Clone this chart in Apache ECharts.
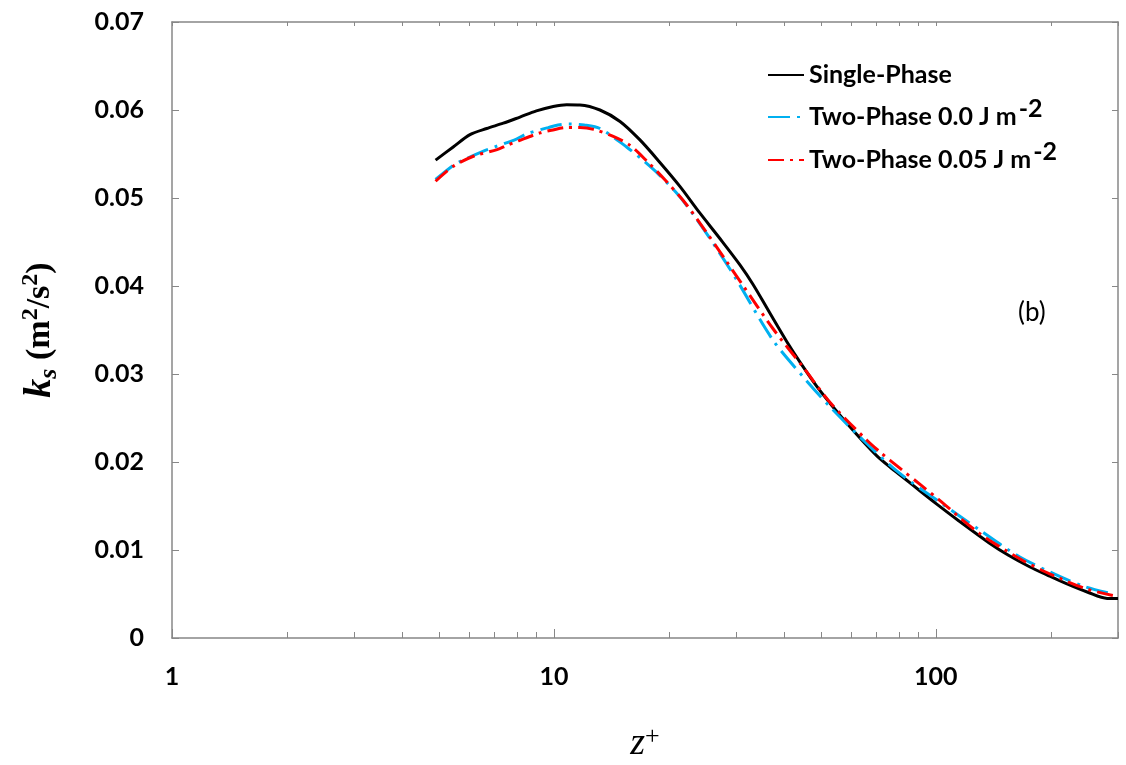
<!DOCTYPE html>
<html>
<head>
<meta charset="utf-8">
<script src="https://cdn.jsdelivr.net/npm/echarts@6/dist/echarts.min.js"></script>
<style>html,body{margin:0;padding:0;background:#fff}#c{width:1126px;height:765px}</style>
</head>
<body>
<div id="c"></div>
<script>
// ---- data ----
const seriesNames = ['Single-Phase', 'Two-Phase 0.0 J m-2', 'Two-Phase 0.05 J m-2'];

const singleZ = [4.9, 5.45, 6.03, 6.67, 7.37, 8.15, 9.0, 9.96, 10.8, 11.7, 13.2, 14.9, 16.8, 18.9, 21.4, 24.1, 27.2, 30.7, 33.2, 36.8, 40.7, 44.5, 48.8, 53.5, 58.5, 64, 70.1, 76, 83, 91, 100, 115, 138, 155, 176, 197, 219, 250, 281, 300];
const singleK = [0.0543, 0.0558, 0.0572, 0.0579, 0.0585, 0.0592, 0.0599, 0.0604, 0.0606, 0.06057, 0.0600, 0.0587, 0.0566, 0.0541, 0.0513, 0.0483, 0.0454, 0.0424, 0.0402, 0.0369, 0.0337, 0.0311, 0.0286, 0.0264, 0.0244, 0.0225, 0.0207, 0.0194, 0.0181, 0.0167, 0.0153, 0.0133, 0.0108, 0.0094, 0.0081, 0.0071, 0.0062, 0.0052, 0.0045, 0.0045];

const twoPhase0Z = [4.9, 5.45, 5.78, 6.52, 7.0, 7.98, 8.5, 9.65, 10.25, 11.0, 12.0, 13.2, 15.5, 17.1, 18.9, 21.4, 24.1, 27.2, 30.1, 37.4, 44.9, 52.8, 65.9, 80.5, 102, 130, 166, 211, 247, 285];
const twoPhase0K = [0.0521, 0.0537, 0.0543, 0.0553, 0.0558, 0.0567, 0.0573, 0.0580, 0.0583, 0.0584, 0.0583, 0.0579, 0.0558, 0.0543, 0.0526, 0.0501, 0.0471, 0.0437, 0.0407, 0.0339, 0.0297, 0.0263, 0.0221, 0.0187, 0.0155, 0.0123, 0.0092, 0.0070, 0.0058, 0.0051];

const twoPhase05Z = [4.9, 5.45, 6.2, 7.1, 7.55, 8.08, 9.2, 9.85, 10.8, 11.7, 12.7, 14.3, 15.8, 17.6, 19.5, 22.1, 24.9, 28.0, 31.0, 37.4, 44.9, 52.8, 65.9, 71.6, 80.5, 92.5, 102, 130, 166, 194, 247, 300];
const twoPhase05K = [0.0519, 0.0536, 0.0548, 0.0555, 0.0560, 0.0565, 0.0574, 0.0577, 0.0580, 0.0580, 0.0578, 0.0570, 0.0560, 0.0541, 0.0521, 0.0494, 0.0463, 0.0431, 0.0403, 0.0352, 0.0308, 0.0268, 0.0225, 0.0211, 0.0193, 0.0172, 0.0157, 0.0119, 0.0090, 0.0075, 0.0056, 0.0047];

const xMajorTicks = [1, 10, 100];
const xMinorTicks = [2, 3, 4, 5, 6, 7, 8, 9, 20, 30, 40, 50, 60, 70, 80, 90, 200, 300];
const xMin = 1, xMax = 300;
const yMin = 0, yMax = 0.07, yStep = 0.01;

// ---- chart ----
const pairs = (xs, ys) => xs.map((x, i) => [x, ys[i]]);
const axisGray = '#878787';
const labelFont = { fontFamily: 'Lato', fontWeight: 'bold', fontSize: 25, color: '#000' };

const chart = echarts.init(document.getElementById('c'), null, { renderer: 'canvas' });

const baseX = {
  type: 'log', logBase: 10, min: xMin, max: xMax,
  splitLine: { show: false }
};

chart.setOption({
  backgroundColor: '#fff',
  animation: false,
  grid: { left: 172, right: 8, top: 22, bottom: 127, containLabel: false, outerBoundsMode: 'none' },
  legend: {
    orient: 'vertical', left: 762, top: 49,
    itemWidth: 36, itemHeight: 14, itemGap: 0,
    itemStyle: { opacity: 0 },
    textStyle: {
      fontFamily: 'Lato', fontWeight: 'bold', fontSize: 25, color: '#000', lineHeight: 42,
      rich: {
        t: { fontFamily: 'Lato', fontWeight: 'bold', fontSize: 25, color: '#000', lineHeight: 42 },
        sup: { fontFamily: 'Lato', fontWeight: 'bold', fontSize: 25, color: '#000', verticalAlign: 'top', lineHeight: 20, padding: [0, 0, 18, 2] }
      }
    },
    formatter: function (name) {
      if (/-2$/.test(name)) {
        return '{t|' + name.slice(0, -2) + '}{sup|-2}';
      }
      return '{t|' + name + '}';
    },
    data: seriesNames
  },
  graphic: [{
    type: 'text', left: 1018, top: 300,
    style: { text: '(b)', fontFamily: 'Lato', fontSize: 26, fill: '#000' }
  }],
  xAxis: [
    Object.assign({}, baseX, {
      position: 'bottom',
      axisLine: { show: true, lineStyle: { color: axisGray, width: 1.5 } },
      axisTick: { show: true, inside: true, length: 9, customValues: xMajorTicks, lineStyle: { color: axisGray, width: 1 } },
      axisLabel: Object.assign({ customValues: xMajorTicks, margin: 26, formatter: v => String(Math.round(v)) }, labelFont),
      name: '{z|z}{sup|+}',
      nameLocation: 'middle', nameGap: 86,
      nameTextStyle: {
        rich: {
          z: { fontFamily: 'Liberation Serif', fontStyle: 'italic', fontSize: 38, color: '#000', lineHeight: 40 },
          sup: { fontFamily: 'Liberation Serif', fontSize: 26, color: '#000', verticalAlign: 'top', lineHeight: 30, padding: [0, 0, 26, 0] }
        }
      }
    }),
    Object.assign({}, baseX, {
      position: 'bottom',
      axisLine: { show: false },
      axisTick: { show: true, inside: true, length: 6, customValues: xMinorTicks, lineStyle: { color: axisGray, width: 1 } },
      axisLabel: { show: false }
    }),
    Object.assign({}, baseX, {
      position: 'top',
      axisLine: { show: true, lineStyle: { color: axisGray, width: 1.5 } },
      axisTick: { show: true, inside: true, length: 4, customValues: xMajorTicks.concat(xMinorTicks), lineStyle: { color: axisGray, width: 1 } },
      axisLabel: { show: false }
    })
  ],
  yAxis: [
    {
      type: 'value', min: yMin, max: yMax, interval: yStep, position: 'left',
      splitLine: { show: false },
      axisLine: { show: true, lineStyle: { color: axisGray, width: 1.5 } },
      axisTick: { show: true, inside: true, length: 7, lineStyle: { color: axisGray, width: 1 } },
      axisLabel: Object.assign({ margin: 28, formatter: v => (v === 0 ? '0' : v.toFixed(2)) }, labelFont),
      name: '{k|k}{s|s}{u| (m}{sup|2}{u|/s}{sup|2}{u|)}',
      nameLocation: 'middle', nameGap: 112, nameRotate: 90,
      nameTextStyle: {
        rich: {
          k: { fontFamily: 'Liberation Serif', fontStyle: 'italic', fontWeight: 'bold', fontSize: 38, color: '#000', lineHeight: 40 },
          s: { fontFamily: 'Liberation Serif', fontStyle: 'italic', fontWeight: 'bold', fontSize: 26, color: '#000', lineHeight: 22, padding: [18, 0, 0, 0] },
          u: { fontFamily: 'Liberation Serif', fontWeight: 'bold', fontSize: 34, color: '#000', lineHeight: 40 },
          sup: { fontFamily: 'Liberation Serif', fontWeight: 'bold', fontSize: 24, color: '#000', lineHeight: 22, padding: [0, 0, 18, 0] }
        }
      }
    },
    {
      type: 'value', min: yMin, max: yMax, interval: yStep, position: 'right',
      splitLine: { show: false },
      axisLine: { show: true, lineStyle: { color: axisGray, width: 1.5 } },
      axisTick: { show: true, inside: true, length: 6, lineStyle: { color: axisGray, width: 1 } },
      axisLabel: { show: false }
    }
  ],
  series: [
    {
      name: seriesNames[0], type: 'line', xAxisIndex: 0, yAxisIndex: 0,
      data: pairs(singleZ, singleK), symbol: 'none', smooth: 0.3,
      lineStyle: { color: '#000000', width: 3 }, itemStyle: { color: '#000000' }, z: 3
    },
    {
      name: seriesNames[1], type: 'line', xAxisIndex: 0, yAxisIndex: 0,
      data: pairs(twoPhase0Z, twoPhase0K), symbol: 'none', smooth: 0.3,
      lineStyle: { color: '#00B0F0', width: 3, type: [22, 7, 3, 7], cap: 'butt' }, itemStyle: { color: '#00B0F0' }, z: 4
    },
    {
      name: seriesNames[2], type: 'line', xAxisIndex: 0, yAxisIndex: 0,
      data: pairs(twoPhase05Z, twoPhase05K), symbol: 'none', smooth: 0.3,
      lineStyle: { color: '#FF0000', width: 3, type: [16, 6, 3, 6], cap: 'butt' }, itemStyle: { color: '#FF0000' }, z: 5
    }
  ]
});
</script>
</body>
</html>
